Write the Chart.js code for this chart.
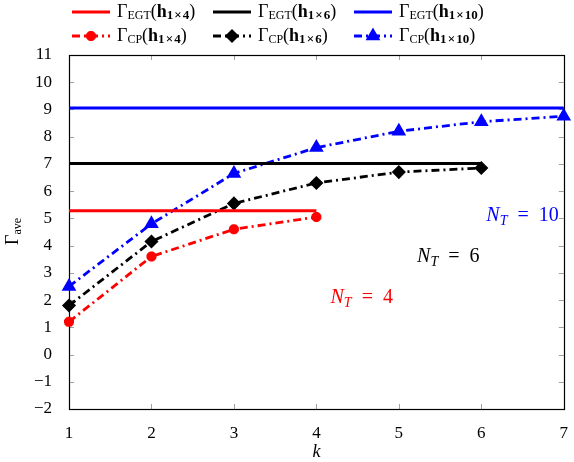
<!DOCTYPE html>
<html>
<head>
<meta charset="utf-8">
<script src="https://cdn.jsdelivr.net/npm/chart.js@4.4.1/dist/chart.umd.min.js"></script>
<style>
  html, body { margin: 0; padding: 0; background: #fff; }
  #wrap { position: relative; width: 574px; height: 462px; }
</style>
</head>
<body>
<div id="wrap"><canvas id="c" width="574" height="462"></canvas></div>
<script>
// ---- data ----
const kValues = [1, 2, 3, 4, 5, 6, 7];
const egt4  = [5.28, 5.28, 5.28, 5.28];
const egt6  = [7.02, 7.02, 7.02, 7.02, 7.02, 7.02];
const egt10 = [9.05, 9.05, 9.05, 9.05, 9.05, 9.05, 9.05];
const cp4   = [1.2, 3.6, 4.6, 5.05];
const cp6   = [1.8, 4.15, 5.55, 6.3, 6.7, 6.85];
const cp10  = [2.5, 4.8, 6.65, 7.6, 8.2, 8.55, 8.75];
const yMin = -2, yMax = 11;
const xMin = 1, xMax = 7;
const antennaLabels = ['4', '6', '10'];
const annotationAnchors = [ // [k, value] where N_T labels sit
  [4.55, 2.07], [5.6, 3.58], [6.5, 5.08]
];

const RED = '#ff0000', BLACK = '#000000', BLUE = '#0000ff';
const SERIF = '"Liberation Serif", "DejaVu Serif", serif';
const DASHDOT = [8, 4, 2, 4];

const toXY = vals => vals.map((v, i) => ({ x: kValues[i], y: v }));

const solidDs = (vals, color) => ({
  data: toXY(vals), borderColor: color, backgroundColor: color,
  borderWidth: 3, pointRadius: 0, tension: 0, clip: false, showLine: true
});
const cpDs = (vals, color, style, r) => ({
  data: toXY(vals), borderColor: color, backgroundColor: color,
  borderWidth: 2.8, borderDash: DASHDOT, pointStyle: style, pointRadius: r,
  pointBorderWidth: style === 'star' ? 3.5 : 1.5, pointBackgroundColor: color,
  pointBorderColor: color, tension: 0,
  clip: false, showLine: true
});

const datasets = [
  solidDs(egt4, RED), solidDs(egt6, BLACK), solidDs(egt10, BLUE),
  cpDs(cp4, RED, 'star', 5), cpDs(cp6, BLACK, 'rectRot', 6), cpDs(cp10, BLUE, 'triangle', 7)
];

function drawRich(ctx, parts, x, y) {
  // parts: [text, size, bold, italic, dy]
  for (const p of parts) {
    ctx.font = (p[3] ? 'italic ' : '') + (p[2] ? 'bold ' : '') + p[1] + 'px ' + SERIF;
    ctx.fillText(p[0], x, y + (p[4] || 0));
    x += ctx.measureText(p[0]).width;
  }
  return x;
}

const decor = {
  id: 'decor',
  beforeDatasetsDraw(chart) {
    const { ctx, chartArea: a, scales } = chart;
    ctx.save();
    // tick marks inward on all sides
    ctx.strokeStyle = '#a0a0a0';
    ctx.lineWidth = 1;
    const L = 5;
    for (let v = yMin + 1; v < yMax; v++) {
      const py = Math.round(scales.y.getPixelForValue(v)) + 0.5;
      ctx.beginPath();
      ctx.moveTo(a.left, py); ctx.lineTo(a.left + L, py);
      ctx.moveTo(a.right, py); ctx.lineTo(a.right - L, py);
      ctx.stroke();
    }
    for (let v = xMin + 1; v < xMax; v++) {
      const px = Math.round(scales.x.getPixelForValue(v)) + 0.5;
      ctx.beginPath();
      ctx.moveTo(px, a.bottom); ctx.lineTo(px, a.bottom - L);
      ctx.moveTo(px, a.top); ctx.lineTo(px, a.top + L);
      ctx.stroke();
    }
    // frame
    ctx.strokeStyle = '#000';
    ctx.lineWidth = 1.2;
    ctx.strokeRect(Math.round(a.left) + 0.5, Math.round(a.top) + 0.5,
                   Math.round(a.right - a.left), Math.round(a.bottom - a.top));
    ctx.restore();
  },
  afterDraw(chart) {
    const { ctx, chartArea: a, scales } = chart;
    ctx.save();
    ctx.textBaseline = 'middle';
    ctx.textAlign = 'left';
    // ---- legend ----
    const colX = [72, 213, 354];
    const rowY = [12, 36];
    const names = [['EGT', 0], ['CP', 3]];
    names.forEach((nm, r) => {
      for (let i = 0; i < 3; i++) {
        const ds = chart.data.datasets[nm[1] + i];
        const x0 = colX[i], y0 = rowY[r];
        ctx.save();
        ctx.strokeStyle = ds.borderColor;
        ctx.lineWidth = ds.borderWidth;
        ctx.setLineDash(r === 0 ? [] : DASHDOT);
        ctx.beginPath(); ctx.moveTo(x0, y0); ctx.lineTo(x0 + 38, y0); ctx.stroke();
        ctx.setLineDash([]);
        if (r === 1 && Chart.helpers && Chart.helpers.drawPoint) {
          ctx.fillStyle = ds.pointBackgroundColor;
          ctx.strokeStyle = ds.pointBorderColor;
          ctx.lineWidth = ds.pointBorderWidth;
          Chart.helpers.drawPoint(ctx, { pointStyle: ds.pointStyle, radius: ds.pointRadius, rotation: 0, borderWidth: ds.pointBorderWidth }, x0 + 19, y0);
        }
        ctx.restore();
        ctx.fillStyle = '#000';
        drawRich(ctx, [
          ['Γ', 18], [nm[0], 12, false, false, 4], ['(', 18],
          ['h', 18, true], ['1\u200a×\u200a' + antennaLabels[i], 13, true, false, 4], [')', 18]
        ], x0 + 45, y0);
      }
    });
    // ---- axis titles ----
    ctx.fillStyle = '#000';
    ctx.textAlign = 'center';
    ctx.font = 'italic 18px ' + SERIF;
    ctx.fillText('k', (a.left + a.right) / 2, 452);
    ctx.save();
    ctx.translate(13, 228);
    ctx.rotate(-Math.PI / 2);
    ctx.textAlign = 'left';
    drawRich(ctx, [['Γ', 18], ['ave', 12, false, false, 5]], -17, 0);
    ctx.restore();
    // ---- N_T annotations ----
    const cols = [RED, BLACK, BLUE];
    ctx.textAlign = 'left';
    annotationAnchors.forEach((anc, i) => {
      const cx = scales.x.getPixelForValue(anc[0]);
      const cy = scales.y.getPixelForValue(anc[1]);
      const parts = [['N', 20, false, true], ['T', 14, false, true, 5], ['\u2002=\u2002' + antennaLabels[i], 20]];
      let w = 0;
      parts.forEach(p => { ctx.font = (p[3] ? 'italic ' : '') + p[1] + 'px ' + SERIF; w += ctx.measureText(p[0]).width; });
      ctx.fillStyle = cols[i];
      drawRich(ctx, parts, cx - w / 2, cy);
    });
    ctx.restore();
  }
};

new Chart(document.getElementById('c'), {
  type: 'scatter',
  data: { datasets },
  options: {
    responsive: false,
    animation: false,
    devicePixelRatio: 1,
    layout: { padding: { top: 55, right: 9, left: 0, bottom: 0 } },
    plugins: { legend: { display: false }, tooltip: { enabled: false } },
    scales: {
      x: {
        type: 'linear', min: xMin, max: xMax,
        grid: { display: false },
        border: { display: false },
        ticks: { stepSize: 1, color: '#000', padding: 6, font: { family: SERIF, size: 17 } },
        afterFit: s => { s.height = 53; }
      },
      y: {
        type: 'linear', min: yMin, max: yMax,
        grid: { display: false },
        border: { display: false },
        ticks: { stepSize: 1, color: '#000', padding: 9, font: { family: SERIF, size: 17 },
                 callback: v => (v < 0 ? '\u2212' + Math.abs(v) : String(v)) },
        afterFit: s => { s.width = 69; }
      }
    }
  },
  plugins: [decor]
});
</script>
</body>
</html>
